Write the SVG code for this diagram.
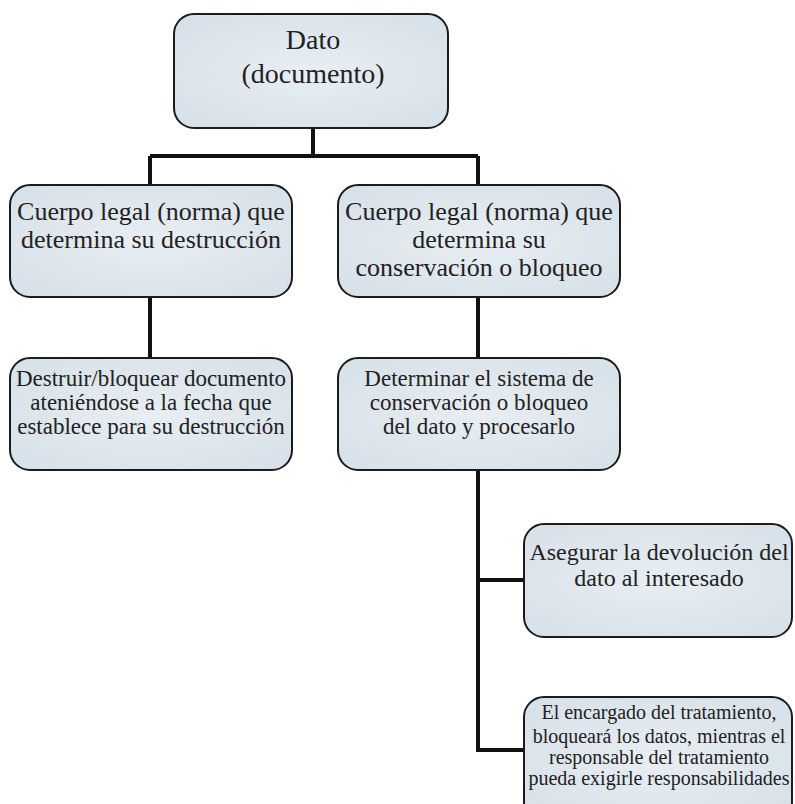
<svg xmlns="http://www.w3.org/2000/svg" width="795" height="804" viewBox="0 0 795 804">
<defs>
<radialGradient id="g" cx="50%" cy="50%" r="70%">
<stop offset="0" stop-color="#e8eef3"/>
<stop offset="1" stop-color="#d6e0e8"/>
</radialGradient>
<style>
.box{fill:url(#g);stroke:#1c1c1c;stroke-width:2}
.t{font-family:"Liberation Serif","Times New Roman",serif;fill:#222;text-anchor:middle}
.c{fill:none;stroke:#111;stroke-width:4}
</style>
</defs>
<rect width="795" height="804" fill="#fff"/>
<g id="connectors">
<path class="c" d="M313,128 V156 M150,156 H478 M150,156 V185 M478,156 V185"/>
<path class="c" d="M150,297 V358 M478,297 V358"/>
<path class="c" d="M478,470 V750 H524 M478,580 H524"/>
</g>
<g id="n1">
<rect class="box" x="174" y="14" width="274" height="114" rx="20"/>
<text class="t" x="313" y="49" font-size="28">Dato</text>
<text class="t" x="313" y="83" font-size="28">(documento)</text>
</g>
<g id="n2">
<rect class="box" x="10" y="185" width="282" height="112" rx="20"/>
<text class="t" x="151" y="220" font-size="26">Cuerpo legal (norma) que</text>
<text class="t" x="151" y="248" font-size="26">determina su destrucción</text>
</g>
<g id="n3">
<rect class="box" x="338" y="185" width="282" height="112" rx="20"/>
<text class="t" x="479" y="220" font-size="26">Cuerpo legal (norma) que</text>
<text class="t" x="479" y="248" font-size="26">determina su</text>
<text class="t" x="479" y="276" font-size="26">conservación o bloqueo</text>
</g>
<g id="n4">
<rect class="box" x="10" y="358" width="282" height="112" rx="20"/>
<text class="t" x="151" y="386" font-size="23">Destruir/bloquear documento</text>
<text class="t" x="151" y="410" font-size="23">ateniéndose a la fecha que</text>
<text class="t" x="151" y="434" font-size="23">establece para su destrucción</text>
</g>
<g id="n5">
<rect class="box" x="338" y="358" width="282" height="112" rx="20"/>
<text class="t" x="479" y="386" font-size="23">Determinar el sistema de</text>
<text class="t" x="479" y="410" font-size="23">conservación o bloqueo</text>
<text class="t" x="479" y="434" font-size="23">del dato y procesarlo</text>
</g>
<g id="n6">
<rect class="box" x="524" y="524" width="268" height="113" rx="20"/>
<text class="t" x="659" y="560" font-size="24">Asegurar la devolución del</text>
<text class="t" x="659" y="586" font-size="24">dato al interesado</text>
</g>
<g id="n7">
<rect class="box" x="524" y="697" width="268" height="125" rx="20"/>
<text class="t" x="659" y="719" font-size="20">El encargado del tratamiento,</text>
<text class="t" x="659" y="743" font-size="20">bloqueará los datos, mientras el</text>
<text class="t" x="659" y="764" font-size="20">responsable del tratamiento</text>
<text class="t" x="659" y="785" font-size="20">pueda exigirle responsabilidades</text>
</g>
</svg>
